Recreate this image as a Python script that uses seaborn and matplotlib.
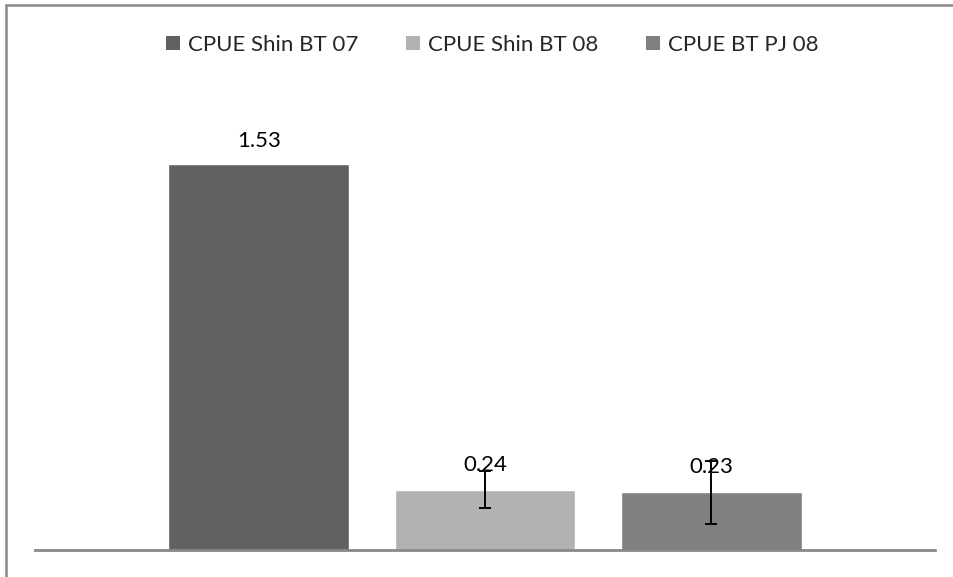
import numpy as np
import pandas as pd
import seaborn as sns
import matplotlib.pyplot as plt
from matplotlib.patches import Patch
from matplotlib.lines import Line2D

# values
series = ['CPUE Shin BT 07', 'CPUE Shin BT 08', 'CPUE BT PJ 08']
cpue = [1.53, 0.24, 0.23]
err = [np.nan, 0.073, 0.125]
labels = ['1.53', '0.24', '0.23']
colors = ['#616161', '#b2b2b2', '#808080']

df = pd.DataFrame({'series': series, 'cpue': cpue})

sns.set_style('white')
plt.rcParams['font.family'] = ['Lato', 'DejaVu Sans']

fig = plt.figure(figsize=(9.54, 5.77), dpi=100)
W, H = 954, 577
ax = fig.add_axes([35 / W, 27 / H, 900 / W, 450 / H])

sns.barplot(data=df, x='series', y='cpue', hue='series', order=series,
            hue_order=series, palette=colors, width=0.8, dodge=False,
            legend=False, saturation=1, ax=ax)

# error bars only where they exist
idx = [i for i, e in enumerate(err) if not np.isnan(e)]
ax.errorbar(idx, [cpue[i] for i in idx], yerr=[err[i] for i in idx],
            fmt='none', ecolor='black', elinewidth=1.4, capsize=4.5, capthick=1.4)

# value labels
pads = [10, 10.5, 10.5]
for cont, lab, p in zip(ax.containers, labels, pads):
    ax.bar_label(cont, labels=[lab], padding=p, fontsize=16, color='black')

ax.set_xlim(-0.99, 2.99)
ax.set_ylim(0, 450 / 252)
ax.set_xticks([])
ax.set_yticks([])
ax.set_xlabel('')
ax.set_ylabel('')
for s in ['left', 'right', 'top']:
    ax.spines[s].set_visible(False)
ax.spines['bottom'].set_color('#888888')
ax.spines['bottom'].set_linewidth(2)

handles = [Patch(facecolor=c, edgecolor='none', label=s) for s, c in zip(series, colors)]
fig.legend(handles=handles, loc='center', bbox_to_anchor=(492 / W, 1 - 45 / H),
           ncol=3, frameon=False, fontsize=16, handlelength=0.63, handleheight=0.63,
           handletextpad=0.36, columnspacing=2.15)

# outer chart border: only left and top edges are inside the picture
fig.add_artist(Line2D([6.5 / W, 6.5 / W], [0, 1 - 5 / H], transform=fig.transFigure,
                      color='#888888', linewidth=1.8))
fig.add_artist(Line2D([6.5 / W, 1], [1 - 5 / H, 1 - 5 / H], transform=fig.transFigure,
                      color='#888888', linewidth=1.8))

fig.savefig('out.png', dpi=100)
